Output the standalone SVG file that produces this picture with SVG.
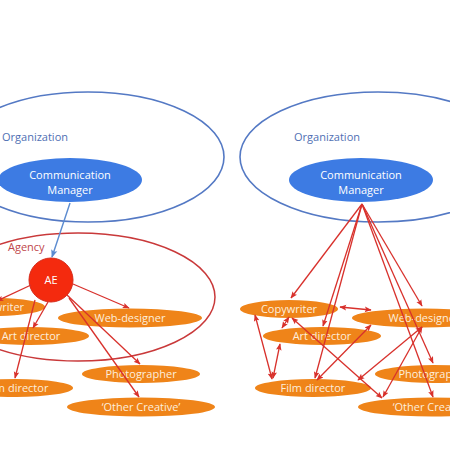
<svg xmlns="http://www.w3.org/2000/svg" width="450" height="450" viewBox="0 0 450 450">
<style>
.org{fill:none;stroke:#5479c4;stroke-width:1.6}
.agency{fill:none;stroke:#c9393a;stroke-width:1.5}
.cm{fill:#3d7be3}
.ae{fill:#f42a0e;stroke:#d62a1a;stroke-width:1}
.role{fill:#ef8419}
.t{font-family:"Open Sans","Liberation Sans",sans-serif;font-size:11px;text-anchor:middle}
.w{fill:#ffffff}
.rl{fill:#fdeedd}
.lbl{font-family:"Open Sans","Liberation Sans",sans-serif;font-size:11px}
.red{stroke:#d8312c;stroke-width:1.3;fill:none;marker-end:url(#ah)}
.bi{marker-start:url(#ah)}
.blue{stroke:#5b8bd0;stroke-width:1.4;fill:none;marker-end:url(#ahb)}
</style>
<defs>
<marker id="ah" viewBox="0 0 10 10" refX="9" refY="5" markerWidth="7" markerHeight="7" orient="auto-start-reverse" markerUnits="userSpaceOnUse">
<path d="M0,1 L10,5 L0,9 L2,5 Z" fill="#d8312c"/>
</marker>
<marker id="ahb" viewBox="0 0 10 10" refX="9" refY="5" markerWidth="8" markerHeight="8" orient="auto" markerUnits="userSpaceOnUse">
<path d="M0,1 L10,5 L0,9 L2,5 Z" fill="#5b8bd0"/>
</marker>
</defs>
<rect width="450" height="450" fill="#ffffff"/>

<g id="org-left">
<ellipse class="org" cx="88" cy="157" rx="136" ry="65"/>
<text class="lbl" x="2" y="141" fill="#4f6fb3">Organization</text>
</g>
<g id="org-right">
<ellipse class="org" cx="378" cy="157" rx="138" ry="65"/>
<text class="lbl" x="294" y="141" fill="#4f6fb3">Organization</text>
</g>
<g id="agency">
<ellipse class="agency" cx="78" cy="297" rx="137" ry="64"/>
<text class="lbl" x="8" y="251" fill="#c0464a">Agency</text>
</g>

<g id="cm-left">
<ellipse class="cm" cx="70" cy="180" rx="72" ry="22"/>
<text class="t w" x="70" y="179">Communication</text>
<text class="t w" x="70" y="194">Manager</text>
</g>
<g id="cm-right">
<ellipse class="cm" cx="361" cy="180" rx="72" ry="22"/>
<text class="t w" x="361" y="179">Communication</text>
<text class="t w" x="361" y="194">Manager</text>
</g>

<g id="ae">
<circle class="ae" cx="51" cy="280" r="22"/>
<text class="t w" x="51" y="284">AE</text>
</g>

<g id="copywriter-left">
<ellipse class="role" cx="-4" cy="307" rx="49" ry="9"/>
<text class="t rl" x="-4" y="311">Copywriter</text>
</g>
<g id="webdesigner-left">
<ellipse class="role" cx="130" cy="318" rx="72" ry="9.5"/>
<text class="t rl" x="130" y="322">Web-designer</text>
</g>
<g id="artdirector-left">
<ellipse class="role" cx="30" cy="336" rx="59" ry="9"/>
<text class="t rl" x="31" y="340">Art director</text>
</g>
<g id="photographer-left">
<ellipse class="role" cx="141" cy="374" rx="59" ry="9"/>
<text class="t rl" x="141" y="378">Photographer</text>
</g>
<g id="filmdirector-left">
<ellipse class="role" cx="16" cy="388" rx="57" ry="9"/>
<text class="t rl" x="16" y="392">Film director</text>
</g>
<g id="othercreative-left">
<ellipse class="role" cx="141" cy="407" rx="74" ry="9.5"/>
<text class="t rl" x="141" y="411">‘Other Creative’</text>
</g>

<g id="copywriter-right">
<ellipse class="role" cx="289" cy="309" rx="49" ry="9"/>
<text class="t rl" x="289" y="313">Copywriter</text>
</g>
<g id="webdesigner-right">
<ellipse class="role" cx="424" cy="318" rx="72" ry="9.5"/>
<text class="t rl" x="424" y="322">Web-designer</text>
</g>
<g id="artdirector-right">
<ellipse class="role" cx="322" cy="336" rx="59" ry="9"/>
<text class="t rl" x="322" y="340">Art director</text>
</g>
<g id="photographer-right">
<ellipse class="role" cx="434" cy="374" rx="59" ry="9"/>
<text class="t rl" x="434" y="378">Photographer</text>
</g>
<g id="filmdirector-right">
<ellipse class="role" cx="313" cy="388" rx="58" ry="9"/>
<text class="t rl" x="313" y="392">Film director</text>
</g>
<g id="othercreative-right">
<ellipse class="role" cx="432" cy="407" rx="74" ry="9.5"/>
<text class="t rl" x="432" y="411">‘Other Creative’</text>
</g>

<g id="connectors">
<line class="blue" x1="70" y1="203" x2="52" y2="257"/>
<line class="red" x1="31" y1="285" x2="-3" y2="301"/>
<line class="red" x1="48" y1="302" x2="33" y2="328"/>
<line class="red" x1="35" y1="300" x2="15" y2="378"/>
<line class="red" x1="73" y1="284" x2="129" y2="308"/>
<line class="red" x1="67" y1="295" x2="140" y2="364"/>
<line class="red" x1="69" y1="298" x2="139" y2="397"/>

<line class="red" x1="362" y1="204" x2="291" y2="298"/>
<line class="red" x1="362" y1="204" x2="323" y2="326"/>
<line class="red" x1="362" y1="204" x2="315" y2="378"/>
<line class="red" x1="362" y1="204" x2="422" y2="306"/>
<line class="red" x1="362" y1="204" x2="433" y2="363"/>
<line class="red" x1="362" y1="204" x2="433" y2="397"/>

<line class="red bi" x1="340" y1="307" x2="371" y2="310"/>
<line class="red bi" x1="255" y1="315" x2="272" y2="379"/>
<line class="red bi" x1="280" y1="344" x2="273" y2="378"/>
<line class="red bi" x1="289" y1="317" x2="282" y2="328"/>
<line class="red bi" x1="292" y1="318" x2="382" y2="398"/>
<line class="red bi" x1="371" y1="325" x2="317" y2="380"/>
<line class="red bi" x1="422" y1="327" x2="358" y2="380"/>
<line class="red bi" x1="422" y1="327" x2="383" y2="397"/>
</g>
</svg>
